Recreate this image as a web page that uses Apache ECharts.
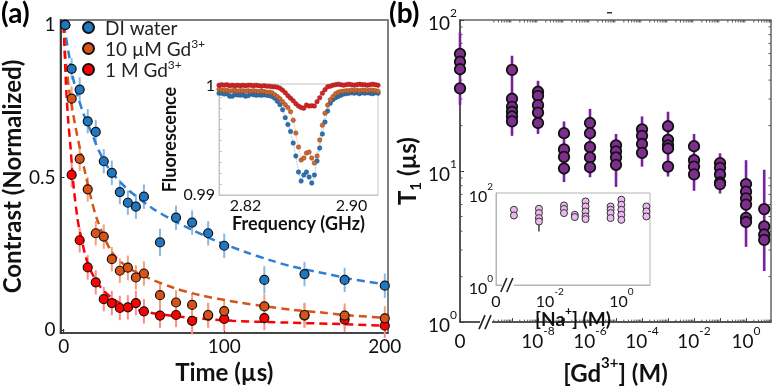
<!DOCTYPE html>
<html>
<head>
<meta charset="utf-8">
<script src="https://cdn.jsdelivr.net/npm/echarts@6/dist/echarts.min.js"></script>
<style>
  html, body { margin: 0; padding: 0; background: #fff; }
  #main { width: 781px; height: 391px; }
</style>
</head>
<body>
<div id="main"></div>
<script>
const FONT = 'Lato, "Open Sans", sans-serif';

// ---- panel (a): normalized contrast vs time
const times = [1, 5, 10, 15, 20, 25, 30, 35, 40, 45, 50, 60, 70, 80, 90, 100, 125, 150, 175, 200];
const contrastDI = [1.0, 0.856, 0.788, 0.684, 0.649, 0.553, 0.515, 0.452, 0.417, 0.404, 0.437, 0.287, 0.368, 0.352, 0.317, 0.276, 0.164, 0.183, 0.164, 0.145];
const contrastGd10u = [1.0, 0.758, 0.561, 0.461, 0.317, 0.306, 0.232, 0.194, 0.204, 0.172, 0.185, 0.114, 0.090, 0.082, 0.049, 0.062, 0.077, 0.049, 0.047, 0.038];
const contrastGd1M = [1.0, 0.508, 0.294, 0.205, 0.156, 0.101, 0.088, 0.072, 0.074, 0.088, 0.061, 0.047, 0.049, 0.030, 0.047, 0.036, 0.039, 0.047, 0.034, 0.014];
const errDI = [0, 0.035, 0.04, 0.04, 0.04, 0.04, 0.04, 0.04, 0.04, 0.04, 0.04, 0.045, 0.04, 0.04, 0.04, 0.04, 0.045, 0.04, 0.04, 0.04];
const errGd10u = [0, 0.04, 0.04, 0.04, 0.04, 0.04, 0.04, 0.04, 0.04, 0.04, 0.04, 0.04, 0.04, 0.04, 0.04, 0.04, 0.04, 0.04, 0.04, 0.04];
const errGd1M = [0, 0.04, 0.04, 0.04, 0.04, 0.04, 0.04, 0.04, 0.04, 0.04, 0.04, 0.04, 0.04, 0.045, 0.04, 0.04, 0.04, 0.04, 0.04, 0.04];

// dashed fit curves
const fitDI = [[0, 1], [1.2, 0.967], [3.3, 0.902], [5.4, 0.837], [8.5, 0.771], [12.6, 0.706], [17.8, 0.641], [21.9, 0.588], [28, 0.53], [39, 0.465], [55, 0.40], [68, 0.36], [80, 0.328], [95, 0.292], [114, 0.254], [129, 0.228], [143, 0.207], [162, 0.186], [178, 0.168], [200, 0.15]];
const fitGd10u = [[0, 1], [1, 0.9], [2.3, 0.84], [3.3, 0.79], [5.4, 0.725], [7.4, 0.665], [10.5, 0.586], [13.6, 0.51], [16.7, 0.44], [21, 0.36], [30, 0.255], [40, 0.205], [53, 0.17], [68, 0.139], [85, 0.114], [109, 0.09], [126, 0.077], [142, 0.066], [159, 0.058], [175, 0.049], [200, 0.04]];
const fitGd1M = [[0, 1], [0.5, 0.93], [1.2, 0.837], [1.9, 0.761], [2.9, 0.684], [4.3, 0.598], [5.4, 0.521], [6.4, 0.46], [8.5, 0.37], [10, 0.325], [15.6, 0.21], [24, 0.134], [36, 0.085], [52.7, 0.058], [77, 0.041], [105, 0.03], [140, 0.024], [167, 0.02], [200, 0.014]];

// ---- inset (a): ODMR spectra
const freqs = [2.800, 2.802, 2.804, 2.806, 2.808, 2.810, 2.812, 2.814, 2.816, 2.818,
  2.820, 2.822, 2.824, 2.826, 2.828, 2.830, 2.832, 2.834, 2.836, 2.838,
  2.840, 2.842, 2.844, 2.846, 2.848, 2.850, 2.852, 2.854, 2.856, 2.858,
  2.860, 2.862, 2.864, 2.866, 2.868, 2.870, 2.872, 2.874, 2.876, 2.878,
  2.880, 2.882, 2.884, 2.886, 2.888, 2.890, 2.892, 2.894, 2.896, 2.898,
  2.900, 2.902, 2.904, 2.906, 2.908, 2.910, 2.912, 2.914, 2.916, 2.918, 2.920];
const fluorDI = [0.99936, 0.99936, 0.99927, 0.99931, 0.99908, 0.99908, 0.99922, 0.99920, 0.99917, 0.99920,
  0.99908, 0.99913, 0.99927, 0.99922, 0.99917, 0.99920, 0.99917, 0.99920, 0.99917, 0.99913,
  0.99906, 0.99890, 0.99862, 0.99830, 0.99784, 0.99711, 0.99647, 0.99584, 0.99477, 0.99358,
  0.99211, 0.99128, 0.99183, 0.99211, 0.99165, 0.99110, 0.99183, 0.99312, 0.99431, 0.99560,
  0.99670, 0.99771, 0.99844, 0.99876, 0.99894, 0.99906, 0.99917, 0.99927, 0.99931, 0.99936,
  0.99940, 0.99936, 0.99940, 0.99931, 0.99940, 0.99936, 0.99940, 0.99936, 0.99931, 0.99940, 0.99936];
const fluorGd10u = [0.99972, 0.99966, 0.99959, 0.99963, 0.99954, 0.99959, 0.99963, 0.99954, 0.99959, 0.99959,
  0.99954, 0.99959, 0.99954, 0.99959, 0.99954, 0.99950, 0.99954, 0.99950, 0.99945, 0.99945,
  0.99940, 0.99922, 0.99904, 0.99885, 0.99858, 0.99830, 0.99803, 0.99766, 0.99688, 0.99569,
  0.99440, 0.99321, 0.99339, 0.99385, 0.99394, 0.99339, 0.99294, 0.99358, 0.99505, 0.99642,
  0.99752, 0.99826, 0.99876, 0.99904, 0.99931, 0.99945, 0.99951, 0.99954, 0.99959, 0.99959,
  0.99963, 0.99959, 0.99963, 0.99959, 0.99963, 0.99963, 0.99959, 0.99963, 0.99963, 0.99959, 0.99954];
const fluorGd1M = [1.00009, 1.00014, 1.00009, 1.00014, 1.00005, 1.00009, 1.00005, 1.00009, 1.00005, 1.00009,
  1.00005, 1.00009, 1.00009, 1.00005, 1.00009, 1.00005, 1.00000, 1.00005, 1.00000, 1.00000,
  0.99995, 0.99995, 0.99991, 0.99982, 0.99963, 0.99940, 0.99913, 0.99890, 0.99867, 0.99839,
  0.99817, 0.99803, 0.99798, 0.99826, 0.99817, 0.99821, 0.99817, 0.99858, 0.99894, 0.99936,
  0.99968, 0.99995, 1.00000, 1.00009, 1.00014, 1.00018, 1.00014, 1.00009, 1.00014, 1.00018,
  1.00014, 1.00009, 1.00014, 1.00018, 1.00014, 1.00014, 1.00009, 1.00014, 1.00018, 1.00014, 1.00009];

// ---- panel (b): T1 vs [Gd3+]
const gdConc = [0, 1e-9, 1e-8, 1e-7, 1e-6, 1e-5, 1e-4, 1e-3, 1e-2, 1e-1, 1, 5];
const gdT1 = [
  [59.7, 52.9, 47.2, 35.3],
  [46.7, 30.1, 26.6, 24.7, 23.0, 21.3],
  [33.5, 31.5, 27.3, 24.4, 20.8],
  [17.8, 13.9, 12.4, 10.4],
  [20.8, 17.8, 14.4, 12.3, 10.6],
  [14.8, 13.5, 12.3, 11.0],
  [18.9, 17.1, 15.1, 13.2],
  [19.8, 16.1, 14.8, 14.1, 10.7],
  [14.6, 11.8, 10.7, 9.5],
  [11.3, 10.5, 9.5, 8.4, 8.2],
  [8.2, 7.3, 6.6, 6.0, 4.9, 4.6],
  [5.6, 4.3, 3.8, 3.5]
];
const gdT1Low = [27.4, 17.1, 17.6, 8.45, 9.1, 7.85, 10.7, 9.2, 7.4, 7.1, 3.15, 2.18];
const gdT1High = [82.6, 58, 39.6, 21.3, 25.8, 17.6, 23, 24.7, 17.6, 13.1, 11.8, 10.2];

// ---- inset (b): T1 vs [Na+]
const naConc = [0.001, 0.005, 0.025, 0.05, 0.1, 0.5, 1, 5];
const naT1 = [
  [43.2, 32.5],
  [45.5, 36.6, 28.5, 24.0],
  [53.7, 45.0, 36.6],
  [33.6, 30.0],
  [65.6, 51.0, 39.7, 30.9, 27.1],
  [51.0, 43.2, 36.6, 28.5],
  [71.4, 55.6, 43.2, 33.6, 26.1],
  [51.0, 39.7, 30.9]
];
const naT1Low = [30, 14.5, 33, 28, 25, 26, 24, 28];
const naT1High = [47, 50, 58, 36, 70, 55, 76, 55];

const gdPos = c => c === 0 ? -11 : Math.log10(c);
const naPos = c => Math.log10(c);

const supRich = size => ({
  b: { fontFamily: FONT, fontSize: size, color: '#111', lineHeight: size + 7, verticalAlign: 'bottom' },
  sup: { fontFamily: FONT, fontSize: Math.round(size * 0.65), color: '#111', lineHeight: 10, verticalAlign: 'top' }
});
const pow10Label = v => '{b|10}{sup|' + Math.round(Math.log10(v)) + '}';
const expLabel = v => '{b|10}{sup|' + v + '}';

function errBars(data, color, width, xi, yi, z) {
  return {
    type: 'custom', xAxisIndex: xi, yAxisIndex: yi, z: z, silent: true, clip: false,
    data: data,
    renderItem: function (params, api) {
      const p1 = api.coord([api.value(0), api.value(1)]);
      const p2 = api.coord([api.value(0), api.value(2)]);
      return { type: 'line', shape: { x1: p1[0], y1: p1[1], x2: p2[0], y2: p2[1] },
        style: { stroke: color, lineWidth: width } };
    }
  };
}

function axisBreak(x, y, xi, yi) {
  return {
    type: 'custom', xAxisIndex: xi, yAxisIndex: yi, z: 30, silent: true, clip: false,
    data: [[x, y]],
    renderItem: function (params, api) {
      const p = api.coord([api.value(0), api.value(1)]);
      return { type: 'group', children: [
        { type: 'rect', shape: { x: p[0] - 6, y: p[1] - 2, width: 12, height: 4 }, style: { fill: '#fff' } },
        { type: 'line', shape: { x1: p[0] - 7, y1: p[1] + 7, x2: p[0] - 1, y2: p[1] - 7 }, style: { stroke: '#222', lineWidth: 1.6 } },
        { type: 'line', shape: { x1: p[0] - 1, y1: p[1] + 7, x2: p[0] + 5, y2: p[1] - 7 }, style: { stroke: '#222', lineWidth: 1.6 } }
      ] };
    }
  };
}

// minor log ticks of panel (b), drawn on both sides of the frame
function minorTicks(values, dir, xi, yi) {
  return {
    type: 'custom', xAxisIndex: xi, yAxisIndex: yi, z: 5, silent: true, clip: false,
    data: values.map(v => dir === 'x' ? [v, 10] : [-5, v]),
    renderItem: function (params, api) {
      const cs = params.coordSys;
      const p = api.coord([api.value(0), api.value(1)]);
      const st = { stroke: '#555', lineWidth: 1 };
      if (dir === 'x') {
        return { type: 'group', children: [
          { type: 'line', shape: { x1: p[0], y1: cs.y + cs.height, x2: p[0], y2: cs.y + cs.height - 2.5 }, style: st },
          { type: 'line', shape: { x1: p[0], y1: cs.y, x2: p[0], y2: cs.y + 2.5 }, style: st }
        ] };
      }
      return { type: 'group', children: [
        { type: 'line', shape: { x1: cs.x, y1: p[1], x2: cs.x + 2.5, y2: p[1] }, style: st },
        { type: 'line', shape: { x1: cs.x + cs.width, y1: p[1], x2: cs.x + cs.width - 2.5, y2: p[1] }, style: st }
      ] };
    }
  };
}
const minorX = [];
for (let n = -10; n <= 0; n++) for (let k = 2; k <= 9; k++) {
  const v = n + Math.log10(k);
  if (v < 0.96) minorX.push(v);
}
const minorY = [];
for (let n = 0; n <= 1; n++) for (let k = 2; k <= 9; k++) minorY.push(k * Math.pow(10, n));

function pairs(xs, ys) { return xs.map((x, i) => [x, ys[i]]); }

const gdPoints = [];
gdConc.forEach((c, i) => gdT1[i].forEach(v => gdPoints.push([gdPos(c), v])));
const naPoints = [];
naConc.forEach((c, i) => naT1[i].forEach(v => naPoints.push([naPos(c), v])));

const blue = '#1f78c1', orange = '#d95319', red = '#ff0000', purple = '#7e2f8e';
const legendNames = { 'DI water': '{n|DI water}', '10 µM Gd3+': '{n|10 µM Gd}{s|3+}', '1 M Gd3+': '{n|1 M Gd}{s|3+}' };

const chart = echarts.init(document.getElementById('main'));

const option = {
  animation: false,
  textStyle: { fontFamily: FONT },
  grid: [
    { left: 60, top: 20, width: 328, height: 313, show: true, borderColor: '#555', borderWidth: 1.5 },
    { left: 219, top: 84, width: 159, height: 111, show: true, borderColor: '#c4c4c4', borderWidth: 1, backgroundColor: '#fff', z: 10 },
    { left: 460, top: 20, width: 311, height: 313, show: true, borderColor: '#666', borderWidth: 1.5 },
    { left: 496, top: 193, width: 154, height: 92, show: true, borderColor: '#b4b4b4', borderWidth: 1, backgroundColor: '#fff', z: 10 }
  ],
  legend: {
    data: ['DI water', '10 µM Gd3+', '1 M Gd3+'],
    orient: 'vertical', left: 82, top: 19, padding: 0, itemGap: 0,
    itemWidth: 11, itemHeight: 11, icon: 'circle', selectedMode: false,
    formatter: name => legendNames[name],
    textStyle: {
      padding: [0, 0, 0, 6],
      rich: {
        n: { fontFamily: FONT, fontSize: 19, color: '#222', lineHeight: 21, verticalAlign: 'bottom' },
        s: { fontFamily: FONT, fontSize: 12, color: '#222', lineHeight: 10, verticalAlign: 'top' }
      }
    }
  },
  xAxis: [
    { gridIndex: 0, type: 'value', min: -2, max: 202,
      name: 'Time (µs)', nameLocation: 'middle', nameGap: 26,
      nameTextStyle: { fontFamily: FONT, fontSize: 24, fontWeight: 'bold', color: '#111' },
      axisLine: { onZero: false, lineStyle: { color: '#333', width: 1.5 } },
      axisTick: { inside: true, length: 4, customValues: [0, 100, 200], lineStyle: { color: '#333' } },
      axisLabel: { customValues: [0, 100, 200], fontSize: 19, color: '#111', margin: 4, fontFamily: FONT },
      splitLine: { show: false } },
    { gridIndex: 1, type: 'value', min: 2.80, max: 2.92, z: 11,
      name: 'Frequency (GHz)', nameLocation: 'middle', nameGap: 18,
      nameTextStyle: { fontFamily: FONT, fontSize: 18, fontWeight: 'bold', color: '#111' },
      axisLine: { onZero: false, lineStyle: { color: '#c4c4c4', width: 1 } },
      axisTick: { show: false },
      axisLabel: { customValues: [2.82, 2.90], formatter: v => v.toFixed(2), fontSize: 16, color: '#111', margin: 3, fontFamily: FONT },
      splitLine: { show: false } },
    { gridIndex: 2, type: 'value', min: -11, max: 0.96,
      name: '{b|[Gd}{sup|3+}{b|] (M)}', nameLocation: 'middle', nameGap: 24,
      nameTextStyle: { rich: {
        b: { fontFamily: FONT, fontSize: 24, fontWeight: 'bold', color: '#111', lineHeight: 30, verticalAlign: 'bottom' },
        sup: { fontFamily: FONT, fontSize: 15, fontWeight: 'bold', color: '#111', lineHeight: 12, verticalAlign: 'top' } } },
      axisLine: { onZero: false, lineStyle: { color: '#444', width: 1.5 } },
      axisTick: { inside: true, length: 4, customValues: [-11, -9, -8, -7, -6, -5, -4, -3, -2, -1, 0], lineStyle: { color: '#444' } },
      axisLabel: { customValues: [-11, -8, -6, -4, -2, 0], margin: 3,
        formatter: v => v === -11 ? '{b|0}' : expLabel(v), rich: supRich(19) },
      splitLine: { show: false } },
    { gridIndex: 3, type: 'value', min: -3.5, max: 0.8, z: 11,
      name: '{b|[Na}{sup|+}{b|] (M)}', nameLocation: 'middle', nameGap: 20, nameMoveOverlap: false,
      nameTextStyle: { rich: {
        b: { fontFamily: FONT, fontSize: 19, fontWeight: 'bold', color: '#111', lineHeight: 24, verticalAlign: 'bottom' },
        sup: { fontFamily: FONT, fontSize: 12, fontWeight: 'bold', color: '#111', lineHeight: 10, verticalAlign: 'top' } } },
      axisLine: { onZero: false, lineStyle: { color: '#b4b4b4', width: 1 } },
      axisTick: { show: false },
      axisLabel: { customValues: [-3.5, -2, 0], margin: 2,
        formatter: v => v === -3.5 ? '{b|0}' : expLabel(v), rich: supRich(16) },
      splitLine: { show: false } }
  ],
  yAxis: [
    { gridIndex: 0, type: 'value', min: -0.01, max: 1.016,
      name: 'Contrast (Normalized)', nameLocation: 'middle', nameGap: 31,
      nameTextStyle: { fontFamily: FONT, fontSize: 24, fontWeight: 'bold', color: '#111' },
      axisLine: { onZero: false, lineStyle: { color: '#333', width: 1.8 } },
      axisTick: { inside: true, length: 4, customValues: [0, 0.5, 1], lineStyle: { color: '#333' } },
      axisLabel: { customValues: [0, 0.5, 1], formatter: v => String(v), fontSize: 19, color: '#111', margin: 5, fontFamily: FONT },
      splitLine: { show: false } },
    { gridIndex: 1, type: 'value', min: 0.99, max: 1.0002, interval: 0.001, z: 11,
      name: 'Fluorescence', nameLocation: 'middle', nameGap: 33,
      nameTextStyle: { fontFamily: FONT, fontSize: 18, fontWeight: 'bold', color: '#111' },
      axisLine: { onZero: false, lineStyle: { color: '#c4c4c4', width: 1 } },
      axisTick: { inside: true, length: 3, lineStyle: { color: '#c4c4c4' } },
      axisLabel: { customValues: [0.99, 1], formatter: v => v >= 0.999 ? '1' : '0.99', fontSize: 16, color: '#111', margin: 4, fontFamily: FONT },
      splitLine: { show: false } },
    { gridIndex: 2, type: 'log', logBase: 10, min: 1, max: 100,
      name: '{b|T}{sub|1}{b| (µs)}', nameLocation: 'middle', nameGap: 35,
      nameTextStyle: { rich: {
        b: { fontFamily: FONT, fontSize: 24, fontWeight: 'bold', color: '#111', lineHeight: 28, verticalAlign: 'top' },
        sub: { fontFamily: FONT, fontSize: 15, fontWeight: 'bold', color: '#111', lineHeight: 12, verticalAlign: 'bottom' } } },
      axisLine: { onZero: false, lineStyle: { color: '#444', width: 1.5 } },
      axisTick: { inside: true, length: 4, lineStyle: { color: '#444' } },
      axisLabel: { formatter: pow10Label, rich: supRich(19), margin: 3 },
      splitLine: { show: false } },
    { gridIndex: 3, type: 'log', logBase: 10, min: 1, max: 100, z: 11,
      axisLine: { onZero: false, lineStyle: { color: '#b4b4b4', width: 1 } },
      axisTick: { show: false },
      axisLabel: { formatter: v => (v === 1 || v === 100) ? pow10Label(v) : '', rich: supRich(16), margin: 3 },
      splitLine: { show: false } }
  ],
  series: [
    // panel (a)
    errBars(times.map((t, i) => [t, contrastGd1M[i] - errGd1M[i], contrastGd1M[i] + errGd1M[i]]), '#ff8a8a', 2, 0, 0, 2),
    errBars(times.map((t, i) => [t, contrastGd10u[i] - errGd10u[i], contrastGd10u[i] + errGd10u[i]]), '#eea27e', 2, 0, 0, 2),
    errBars(times.map((t, i) => [t, contrastDI[i] - errDI[i], contrastDI[i] + errDI[i]]), '#8ab8e6', 2, 0, 0, 2),
    { type: 'line', name: 'fit DI', xAxisIndex: 0, yAxisIndex: 0, z: 3, data: fitDI, smooth: 0.3, showSymbol: false, silent: true,
      lineStyle: { color: '#2b7fd4', width: 2.5, type: [8, 5] } },
    { type: 'line', name: 'fit 10u', xAxisIndex: 0, yAxisIndex: 0, z: 3, data: fitGd10u, smooth: 0.3, showSymbol: false, silent: true,
      lineStyle: { color: orange, width: 2.5, type: [8, 5] } },
    { type: 'line', name: 'fit 1M', xAxisIndex: 0, yAxisIndex: 0, z: 3, data: fitGd1M, smooth: 0.3, showSymbol: false, silent: true,
      lineStyle: { color: red, width: 2.5, type: [8, 5] } },
    { type: 'scatter', name: '1 M Gd3+', xAxisIndex: 0, yAxisIndex: 0, z: 4, data: pairs(times, contrastGd1M), symbolSize: 9,
      itemStyle: { color: red, borderColor: '#111', borderWidth: 1.2, opacity: 1 } },
    { type: 'scatter', name: '10 µM Gd3+', xAxisIndex: 0, yAxisIndex: 0, z: 4, data: pairs(times, contrastGd10u), symbolSize: 9,
      itemStyle: { color: orange, borderColor: '#111', borderWidth: 1.2, opacity: 1 } },
    { type: 'scatter', name: 'DI water', xAxisIndex: 0, yAxisIndex: 0, z: 4, data: pairs(times, contrastDI), symbolSize: 9,
      itemStyle: { color: blue, borderColor: '#111', borderWidth: 1.2, opacity: 1 } },
    // inset (a)
    { type: 'line', xAxisIndex: 1, yAxisIndex: 1, z: 12, data: pairs(freqs, fluorDI), symbol: 'circle', symbolSize: 4.5, silent: true,
      lineStyle: { color: '#6fa3d6', width: 0.8, type: 'dotted' }, itemStyle: { color: '#2a72b5', borderColor: '#1d4f80', borderWidth: 0.5 } },
    { type: 'line', xAxisIndex: 1, yAxisIndex: 1, z: 12, data: pairs(freqs, fluorGd10u), symbol: 'circle', symbolSize: 4.5, silent: true,
      lineStyle: { color: '#e39b74', width: 0.8, type: 'dotted' }, itemStyle: { color: '#cd6a30', borderColor: '#8a4218', borderWidth: 0.5 } },
    { type: 'line', xAxisIndex: 1, yAxisIndex: 1, z: 12, data: pairs(freqs, fluorGd1M), symbol: 'circle', symbolSize: 4.5, silent: true,
      lineStyle: { color: '#e88080', width: 0.8, type: 'dotted' }, itemStyle: { color: '#d82424', borderColor: '#8c1414', borderWidth: 0.5 } },
    // panel (b)
    errBars(gdConc.map((c, i) => [gdPos(c), gdT1Low[i], gdT1High[i]]), '#7a1fa0', 2.6, 2, 2, 2),
    { type: 'scatter', xAxisIndex: 2, yAxisIndex: 2, z: 4, data: gdPoints, symbolSize: 10.5,
      itemStyle: { color: purple, borderColor: '#111', borderWidth: 1.8, opacity: 1 } },
    minorTicks(minorX, 'x', 2, 2),
    minorTicks(minorY, 'y', 2, 2),
    axisBreak(-10, 1, 2, 2),
    // inset (b)
    errBars(naConc.map((c, i) => [naPos(c), naT1Low[i], naT1High[i]]), '#222', 1.3, 3, 3, 12),
    { type: 'scatter', xAxisIndex: 3, yAxisIndex: 3, z: 13, data: naPoints, symbolSize: 7,
      itemStyle: { color: '#ecb8f0', borderColor: '#333', borderWidth: 1, opacity: 1 } },
    axisBreak(-3.17, 1, 3, 3)
  ],
  graphic: [
    { type: 'text', left: 1, top: 0, style: { text: '(a)', font: 'bold 28px ' + FONT, fill: '#000' } },
    { type: 'text', left: 389, top: 0, style: { text: '(b)', font: 'bold 28px ' + FONT, fill: '#000' } },
    { type: 'rect', left: 607, top: 12, shape: { width: 5, height: 1.5 }, style: { fill: '#333' } }
  ]
};

chart.setOption(option);
</script>
</body>
</html>
